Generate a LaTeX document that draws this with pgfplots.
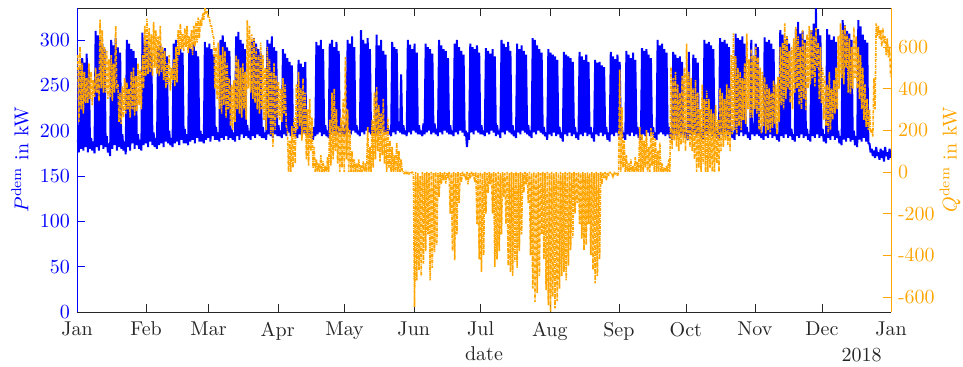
\documentclass[border=0pt]{standalone}
\usepackage{pgfplots}
\pgfplotsset{compat=1.18}
\definecolor{mblue}{RGB}{0,0,255}
\definecolor{morange}{RGB}{255,165,0}
\definecolor{axgray}{RGB}{38,38,38}
\begin{document}
\begin{tikzpicture}
\begin{axis}[name=ax,
 scale only axis, width=407pt, height=152pt,
 xmin=0, xmax=365, ymin=0, ymax=335.3,
 separate axis lines,
 x axis line style={axgray},
 y axis line style={mblue},
 xtick={0,31,59,90,120,151,181,212,243,273,304,334,365},
 xticklabels={Jan,Feb,Mar,Apr,May,Jun,Jul,Aug,Sep,Oct,Nov,Dec,Jan},
 xtick pos=both, ytick pos=left,
 ytick={0,50,...,300},
 tick align=inside, major tick length=4pt,
 every x tick/.style={axgray},
 every y tick/.style={mblue},
 yticklabel style={mblue},
 xticklabel style={axgray, yshift=-1.5pt},
 ylabel={$P^{\mathrm{dem}}$ in kW},
 ylabel style={mblue, at={(axis description cs:-0.070,0.5)}, anchor=center, inner sep=0pt},
 xlabel={date},
 xlabel style={axgray, at={(axis description cs:0.5,-0.161)}, anchor=base, inner sep=0pt},
]
\addplot[mblue, line width=1.0pt, line join=bevel] coordinates {
(0.35,190)(0.85,176)(1.35,270)(1.85,180)(2.35,280)(2.85,178)(3.35,275)(3.85,182)(4.35,285)(4.85,176)(5.35,268)(5.85,180)(6.35,192)(6.85,178)
(7.35,188)(7.85,175)(8.35,310)(8.85,182)(9.35,305)(9.85,178)(10.35,300)(10.85,184)(11.35,296)(11.85,180)(12.35,290)(12.85,182)(13.35,194)(13.85,176)
(14.35,186)(14.85,172)(15.35,300)(15.85,180)(16.35,294)(16.85,184)(17.35,302)(17.85,178)(18.35,292)(18.85,182)(19.35,286)(19.85,180)(20.35,196)(20.85,178)
(21.35,188)(21.85,174)(22.35,300)(22.85,182)(23.35,296)(23.85,178)(24.35,290)(24.85,186)(25.35,288)(25.85,180)(26.35,280)(26.85,184)(27.35,196)(27.85,180)
(28.35,190)(28.85,178)(29.35,308)(29.85,184)(30.35,296)(30.85,186)(31.35,300)(31.85,182)(32.35,292)(32.85,188)(33.35,286)(33.85,184)(34.35,198)(34.85,182)
(35.35,192)(35.85,180)(36.35,290)(36.85,184)(37.35,294)(37.85,186)(38.35,288)(38.85,182)(39.35,291)(39.85,188)(40.35,282)(40.85,186)(41.35,200)(41.85,184)
(42.35,192)(42.85,182)(43.35,296)(43.85,186)(44.35,300)(44.85,188)(45.35,292)(45.85,184)(46.35,290)(46.85,190)(47.35,286)(47.85,186)(48.35,202)(48.85,186)
(49.35,196)(49.85,184)(50.35,294)(50.85,188)(51.35,290)(51.85,190)(52.35,296)(52.85,186)(53.35,288)(53.85,192)(54.35,282)(54.85,188)(55.35,200)(55.85,188)
(56.35,196)(56.85,186)(57.35,298)(57.85,190)(58.35,292)(58.85,192)(59.35,296)(59.85,188)(60.35,290)(60.85,194)(61.35,284)(61.85,190)(62.35,204)(62.85,190)
(63.35,198)(63.85,188)(64.35,300)(64.85,192)(65.35,305)(65.85,190)(66.35,298)(66.85,194)(67.35,292)(67.85,190)(68.35,288)(68.85,192)(69.35,202)(69.85,190)
(70.35,198)(70.85,188)(71.35,304)(71.85,194)(72.35,309)(72.85,190)(73.35,300)(73.85,196)(74.35,296)(74.85,192)(75.35,290)(75.85,194)(76.35,206)(76.85,192)
(77.35,200)(77.85,190)(78.35,298)(78.85,194)(79.35,302)(79.85,192)(80.35,296)(80.85,196)(81.35,290)(81.85,194)(82.35,286)(82.85,192)(83.35,204)(83.85,192)
(84.35,198)(84.85,190)(85.35,300)(85.85,196)(86.35,296)(86.85,194)(87.35,304)(87.85,192)(88.35,292)(88.85,196)(89.35,288)(89.85,194)(90.35,206)(90.85,194)
(91.35,200)(91.85,192)(92.35,290)(92.85,196)(93.35,285)(93.85,194)(94.35,280)(94.85,198)(95.35,276)(95.85,194)(96.35,272)(96.85,196)(97.35,204)(97.85,194)
(98.35,200)(98.85,192)(99.35,278)(99.85,196)(100.35,274)(100.85,194)(101.35,270)(101.85,198)(102.35,276)(102.85,194)(103.35,206)(103.85,194)(104.35,202)(104.85,192)
(105.35,198)(105.85,190)(106.35,204)(106.85,194)(107.35,298)(107.85,196)(108.35,294)(108.85,198)(109.35,300)(109.85,194)(110.35,290)(110.85,196)(111.35,206)(111.85,194)
(112.35,200)(112.85,192)(113.35,296)(113.85,196)(114.35,300)(114.85,198)(115.35,292)(115.85,194)(116.35,298)(116.85,196)(117.35,288)(117.85,198)(118.35,206)(118.85,196)
(119.35,200)(119.85,194)(120.35,208)(120.85,196)(121.35,300)(121.85,198)(122.35,296)(122.85,196)(123.35,304)(123.85,200)(124.35,292)(124.85,198)(125.35,206)(125.85,196)
(126.35,200)(126.85,194)(127.35,311)(127.85,198)(128.35,300)(128.85,196)(129.35,296)(129.85,200)(130.35,302)(130.85,198)(131.35,290)(131.85,196)(132.35,206)(132.85,196)
(133.35,200)(133.85,194)(134.35,306)(134.85,198)(135.35,294)(135.85,196)(136.35,300)(136.85,200)(137.35,288)(137.85,198)(138.35,284)(138.85,196)(139.35,206)(139.85,196)
(140.35,200)(140.85,194)(141.35,298)(141.85,198)(142.35,292)(142.85,196)(143.35,290)(143.85,200)(144.35,210)(144.85,198)(145.35,262)(145.85,196)(146.35,206)(146.85,196)
(147.35,200)(147.85,194)(148.35,300)(148.85,198)(149.35,295)(149.85,196)(150.35,290)(150.85,200)(151.35,296)(151.85,198)(152.35,286)(152.85,196)(153.35,206)(153.85,196)
(154.35,200)(154.85,194)(155.35,208)(155.85,196)(156.35,296)(156.85,198)(157.35,292)(157.85,200)(158.35,290)(158.85,196)(159.35,285)(159.85,198)(160.35,208)(160.85,196)
(161.35,202)(161.85,194)(162.35,300)(162.85,198)(163.35,294)(163.85,196)(164.35,290)(164.85,200)(165.35,288)(165.85,198)(166.35,280)(166.85,196)(167.35,206)(167.85,196)
(168.35,200)(168.85,194)(169.35,296)(169.85,198)(170.35,300)(170.85,196)(171.35,292)(171.85,200)(172.35,288)(172.85,198)(173.35,284)(173.85,194)(174.35,200)(174.85,182)
(175.35,198)(175.85,190)(176.35,296)(176.85,198)(177.35,292)(177.85,196)(178.35,290)(178.85,200)(179.35,294)(179.85,198)(180.35,286)(180.85,196)(181.35,206)(181.85,196)
(182.35,200)(182.85,194)(183.35,291)(183.85,198)(184.35,288)(184.85,196)(185.35,285)(185.85,200)(186.35,290)(186.85,198)(187.35,282)(187.85,194)(188.35,206)(188.85,196)
(189.35,200)(189.85,192)(190.35,300)(190.85,198)(191.35,296)(191.85,196)(192.35,292)(192.85,200)(193.35,298)(193.85,198)(194.35,288)(194.85,196)(195.35,206)(195.85,194)
(196.35,200)(196.85,192)(197.35,296)(197.85,198)(198.35,290)(198.85,196)(199.35,294)(199.85,200)(200.35,288)(200.85,198)(201.35,284)(201.85,196)(202.35,206)(202.85,194)
(203.35,200)(203.85,192)(204.35,302)(204.85,198)(205.35,300)(205.85,196)(206.35,294)(206.85,200)(207.35,290)(207.85,198)(208.35,286)(208.85,196)(209.35,204)(209.85,194)
(210.35,198)(210.85,190)(211.35,290)(211.85,196)(212.35,286)(212.85,194)(213.35,284)(213.85,198)(214.35,282)(214.85,194)(215.35,278)(215.85,196)(216.35,204)(216.85,192)
(217.35,198)(217.85,188)(218.35,287)(218.85,196)(219.35,284)(219.85,194)(220.35,282)(220.85,198)(221.35,280)(221.85,194)(222.35,276)(222.85,196)(223.35,204)(223.85,192)
(224.35,198)(224.85,190)(225.35,287)(225.85,196)(226.35,282)(226.85,194)(227.35,278)(227.85,198)(228.35,284)(228.85,194)(229.35,276)(229.85,196)(230.35,204)(230.85,192)
(231.35,198)(231.85,188)(232.35,278)(232.85,196)(233.35,275)(233.85,194)(234.35,276)(234.85,198)(235.35,272)(235.85,194)(236.35,270)(236.85,196)(237.35,204)(237.85,190)
(238.35,198)(238.85,188)(239.35,287)(239.85,196)(240.35,282)(240.85,194)(241.35,279)(241.85,198)(242.35,284)(242.85,194)(243.35,276)(243.85,196)(244.35,204)(244.85,192)
(245.35,198)(245.85,190)(246.35,288)(246.85,196)(247.35,284)(247.85,194)(248.35,280)(248.85,198)(249.35,286)(249.85,194)(250.35,278)(250.85,196)(251.35,204)(251.85,192)
(252.35,198)(252.85,190)(253.35,291)(253.85,196)(254.35,288)(254.85,194)(255.35,290)(255.85,198)(256.35,284)(256.85,194)(257.35,280)(257.85,196)(258.35,204)(258.85,192)
(259.35,198)(259.85,190)(260.35,300)(260.85,196)(261.35,294)(261.85,198)(262.35,296)(262.85,196)(263.35,290)(263.85,194)(264.35,286)(264.85,196)(265.35,204)(265.85,192)
(266.35,198)(266.85,190)(267.35,287)(267.85,196)(268.35,284)(268.85,194)(269.35,280)(269.85,198)(270.35,282)(270.85,194)(271.35,276)(271.85,196)(272.35,204)(272.85,192)
(273.35,198)(273.85,190)(274.35,287)(274.85,196)(275.35,206)(275.85,194)(276.35,284)(276.85,198)(277.35,280)(277.85,194)(278.35,275)(278.85,196)(279.35,204)(279.85,192)
(280.35,198)(280.85,190)(281.35,300)(281.85,196)(282.35,296)(282.85,194)(283.35,298)(283.85,198)(284.35,294)(284.85,194)(285.35,290)(285.85,196)(286.35,204)(286.85,192)
(287.35,198)(287.85,190)(288.35,302)(288.85,196)(289.35,298)(289.85,194)(290.35,300)(290.85,198)(291.35,296)(291.85,194)(292.35,292)(292.85,196)(293.35,204)(293.85,192)
(294.35,198)(294.85,190)(295.35,307)(295.85,196)(296.35,302)(296.85,194)(297.35,300)(297.85,198)(298.35,304)(298.85,194)(299.35,296)(299.85,196)(300.35,204)(300.85,192)
(301.35,198)(301.85,190)(302.35,300)(302.85,196)(303.35,208)(303.85,194)(304.35,296)(304.85,196)(305.35,292)(305.85,194)(306.35,204)(306.85,192)
(307.35,198)(307.85,190)(308.35,303)(308.85,194)(309.35,298)(309.85,192)(310.35,300)(310.85,196)(311.35,296)(311.85,192)(312.35,290)(312.85,194)(313.35,202)(313.85,190)
(314.35,196)(314.85,188)(315.35,311)(315.85,194)(316.35,306)(316.85,192)(317.35,300)(317.85,196)(318.35,304)(318.85,192)(319.35,296)(319.85,194)(320.35,202)(320.85,190)
(321.35,196)(321.85,188)(322.35,312)(322.85,194)(323.35,320)(323.85,192)(324.35,307)(324.85,196)(325.35,310)(325.85,192)(326.35,300)(326.85,194)(327.35,202)(327.85,190)
(328.35,196)(328.85,188)(329.35,311)(329.85,194)(330.35,318)(330.85,192)(331.35,335)(331.85,196)(332.35,312)(332.85,192)(333.35,305)(333.85,194)(334.35,202)(334.85,188)
(335.35,196)(335.85,186)(336.35,312)(336.85,192)(337.35,306)(337.85,190)(338.35,300)(338.85,194)(339.35,304)(339.85,190)(340.35,298)(340.85,192)(341.35,200)(341.85,186)
(342.35,194)(342.85,184)(343.35,322)(343.85,190)(344.35,316)(344.85,188)(345.35,310)(345.85,192)(346.35,307)(346.85,188)(347.35,300)(347.85,190)(348.35,200)(348.85,184)
(349.35,194)(349.85,182)(350.35,322)(350.85,190)(351.35,315)(351.85,188)(352.35,306)(352.85,192)(353.35,300)(353.85,188)(354.35,297)(354.85,186)(355.35,186)(355.85,176)
(356.35,180)(356.85,172)(357.35,178)(357.85,170)(358.35,182)(358.85,172)(359.35,176)(359.85,168)(360.35,180)(360.85,170)(361.35,178)(361.85,166)(362.35,182)(362.85,172)
(363.35,176)(363.85,168)(364.35,180)(364.85,170)
};
\end{axis}
\begin{axis}[
 scale only axis, width=407pt, height=152pt,
 xmin=0, xmax=365, ymin=-672, ymax=786,
 axis x line=none, axis y line*=right,
 y axis line style={morange},
 ytick={-600,-400,-200,0,200,400,600},
 yticklabels={-600,-400,-200,0,200,400,600},
 ytick pos=right,
 tick align=inside, major tick length=4pt,
 every y tick/.style={morange},
 yticklabel style={morange},
 ylabel={$Q^{\mathrm{dem}}$ in kW},
 ylabel style={morange, at={(axis description cs:1.0725,0.5)}, anchor=center, inner sep=0pt, rotate=0},
]
\addplot[morange, line width=0.8pt, line join=bevel, dash pattern=on 1.6pt off 0.5pt on 0.4pt off 0.5pt] coordinates {
(0.35,560)(0.85,240)(1.35,600)(1.85,300)(2.35,520)(2.85,280)(3.35,480)(3.85,330)(4.35,450)(4.85,330)(5.35,520)(5.85,350)(6.35,480)(6.85,320)
(7.35,440)(7.85,360)(8.35,500)(8.85,380)(9.35,470)(9.85,340)(10.35,730)(10.85,400)(11.35,680)(11.85,380)(12.35,600)(12.85,380)(13.35,580)(13.85,350)
(14.35,540)(14.85,360)(15.35,560)(15.85,340)(16.35,520)(16.85,380)(17.35,700)(17.85,400)(18.35,420)(18.85,240)(19.35,380)(19.85,230)(20.35,410)(20.85,260)
(21.35,450)(21.85,280)(22.35,430)(22.85,300)(23.35,400)(23.85,260)(24.35,480)(24.85,300)(25.35,500)(25.85,270)(26.35,460)(26.85,290)(27.35,520)(27.85,320)
(28.35,490)(28.85,300)(29.35,560)(29.85,400)(30.35,700)(30.85,460)(31.35,735)(31.85,470)(32.35,690)(32.85,480)(33.35,660)(33.85,460)(34.35,720)(34.85,500)
(35.35,680)(35.85,470)(36.35,650)(36.85,460)(37.35,700)(37.85,480)(38.35,600)(38.85,440)(39.35,580)(39.85,400)(40.35,520)(40.85,420)(41.35,560)(41.85,390)
(42.35,500)(42.85,440)(43.35,540)(43.85,410)(44.35,600)(44.85,430)(45.35,680)(45.85,560)(46.35,712)(46.85,590)(47.35,660)(47.85,580)(48.35,690)(48.85,600)
(49.35,700)(49.85,570)(50.35,650)(50.85,590)(51.35,680)(51.85,560)(52.35,700)(52.85,600)(53.35,720)(53.85,620)(54.35,740)(54.85,640)(55.35,730)(55.85,700)
(56.35,760)(56.85,730)(57.35,786)(57.85,760)(58.35,770)(58.85,740)(59.35,740)(59.85,700)(60.35,700)(60.85,660)(61.35,640)(61.85,400)(62.35,600)(62.85,350)
(63.35,620)(63.85,300)(64.35,560)(64.85,280)(65.35,600)(65.85,320)(66.35,580)(66.85,260)(67.35,520)(67.85,300)(68.35,450)(68.85,220)(69.35,420)(69.85,200)
(70.35,440)(70.85,240)(71.35,560)(71.85,300)(72.35,540)(72.85,280)(73.35,500)(73.85,260)(74.35,520)(74.85,300)(75.35,480)(75.85,250)(76.35,728)(76.85,400)
(77.35,700)(77.85,380)(78.35,660)(78.85,350)(79.35,640)(79.85,330)(80.35,600)(80.85,300)(81.35,560)(81.85,280)(82.35,620)(82.85,300)(83.35,560)(83.85,250)
(84.35,500)(84.85,200)(85.35,600)(85.85,260)(86.35,540)(86.85,180)(87.35,480)(87.85,120)(88.35,520)(88.85,200)(89.35,460)(89.85,260)(90.35,430)(90.85,250)
(91.35,400)(91.85,240)(92.35,450)(92.85,280)(93.35,420)(93.85,220)(94.35,200)(94.85,0)(95.35,150)(95.85,0)(96.35,220)(96.85,20)(97.35,260)(97.85,40)
(98.35,420)(98.85,200)(99.35,480)(99.85,220)(100.35,400)(100.85,150)(101.35,450)(101.85,180)(102.35,380)(102.85,60)(103.35,300)(103.85,30)(104.35,350)(104.85,100)
(105.35,260)(105.85,20)(106.35,120)(106.85,0)(107.35,60)(107.85,0)(108.35,40)(108.85,0)(109.35,80)(109.85,0)(110.35,50)(110.85,0)(111.35,30)(111.85,0)
(112.35,70)(112.85,0)(113.35,250)(113.85,30)(114.35,380)(114.85,60)(115.35,400)(115.85,100)(116.35,300)(116.85,40)(117.35,220)(117.85,0)(118.35,260)(118.85,20)
(119.35,350)(119.85,0)(120.35,551)(120.85,60)(121.35,300)(121.85,0)(122.35,200)(122.85,0)(123.35,100)(123.85,0)(124.35,60)(124.85,0)(125.35,40)(125.85,0)
(126.35,60)(126.85,0)(127.35,30)(127.85,0)(128.35,50)(128.85,0)(129.35,40)(129.85,0)(130.35,215)(130.85,0)(131.35,120)(131.85,0)(132.35,250)(132.85,20)
(133.35,380)(133.85,60)(134.35,407)(134.85,100)(135.35,320)(135.85,50)(136.35,280)(136.85,80)(137.35,350)(137.85,40)(138.35,200)(138.85,0)(139.35,260)(139.85,20)
(140.35,150)(140.85,0)(141.35,120)(141.85,0)(142.35,80)(142.85,0)(143.35,140)(143.85,0)(144.35,100)(144.85,0)(145.35,60)(145.85,0)(146.35,0)(146.85,-10)
(147.35,5)(147.85,-10)(148.35,0)(148.85,-12)(149.35,0)(149.85,-8)(150.35,0)(150.85,-10)
(151.35,-648)(151.85,0)(152.35,-520)(152.85,-6)(153.35,-470)(153.85,-20)(154.35,-500)(154.85,0)(155.35,-440)(155.85,-6)(156.35,-380)(156.85,0)(157.35,-300)(157.85,-6)
(158.35,-520)(158.85,0)(159.35,-460)(159.85,-6)(160.35,-385)(160.85,0)(161.35,-350)(161.85,-6)(162.35,-120)(162.85,0)(163.35,-60)(163.85,-6)(164.35,-40)(164.85,0)
(165.35,-56)(165.85,-6)(166.35,-30)(166.85,0)(167.35,-200)(167.85,-6)(168.35,-380)(168.85,0)(169.35,-424)(169.85,-6)(170.35,-300)(170.85,0)(171.35,-150)(171.85,-6)
(172.35,-50)(172.85,0)(173.35,-20)(173.85,-6)(174.35,-40)(174.85,0)(175.35,-60)(175.85,-6)(176.35,-30)(176.85,0)(177.35,-20)(177.85,-6)(178.35,-50)(178.85,0)
(179.35,-250)(179.85,-6)(180.35,-420)(180.85,0)(181.35,-480)(181.85,-6)(182.35,-400)(182.85,0)(183.35,-200)(183.85,-6)(184.35,-100)(184.85,0)(185.35,-60)(185.85,-6)
(186.35,-200)(186.85,0)(187.35,-456)(187.85,-6)(188.35,-420)(188.85,0)(189.35,-380)(189.85,-6)(190.35,-300)(190.85,0)(191.35,-120)(191.85,-6)(192.35,-250)(192.85,0)
(193.35,-450)(193.85,-6)(194.35,-480)(194.85,0)(195.35,-500)(195.85,-6)(196.35,-430)(196.85,0)(197.35,-460)(197.85,-6)(198.35,-380)(198.85,0)(199.35,-300)(199.85,-6)
(200.35,-100)(200.85,0)(201.35,-60)(201.85,-6)(202.35,-150)(202.85,0)(203.35,-400)(203.85,-6)(204.35,-560)(204.85,0)(205.35,-624)(205.85,-6)(206.35,-580)(206.85,0)
(207.35,-500)(207.85,-6)(208.35,-300)(208.85,0)(209.35,-420)(209.85,-6)(210.35,-568)(210.85,0)(211.35,-640)(211.85,-6)(212.35,-672)(212.85,0)(213.35,-600)(213.85,-6)
(214.35,-655)(214.85,0)(215.35,-620)(215.85,-6)(216.35,-560)(216.85,0)(217.35,-500)(217.85,-6)(218.35,-480)(218.85,0)(219.35,-520)(219.85,-6)(220.35,-450)(220.85,0)
(221.35,-375)(221.85,-6)(222.35,-315)(222.85,0)(223.35,-200)(223.85,-6)(224.35,-150)(224.85,0)(225.35,-250)(225.85,-6)(226.35,-320)(226.85,0)(227.35,-375)(227.85,-6)
(228.35,-350)(228.85,0)(229.35,-250)(229.85,-6)(230.35,-400)(230.85,0)(231.35,-470)(231.85,-6)(232.35,-535)(232.85,0)(233.35,-500)(233.85,-6)(234.35,-420)(234.85,0)
(235.35,-60)(235.85,-6)(236.35,-30)(236.85,0)(237.35,-40)(237.85,-6)(238.35,-20)(238.85,0)(239.35,-10)(239.85,-6)(240.35,-30)(240.85,0)(241.35,-10)(241.85,-6)
(242.35,-20)(242.85,0)
(243.35,490)(243.85,0)(244.35,310)(244.85,20)(245.35,150)(245.85,0)(246.35,80)(246.85,0)(247.35,40)(247.85,0)(248.35,60)(248.85,0)(249.35,30)(249.85,0)
(250.35,70)(250.85,0)(251.35,50)(251.85,0)(252.35,215)(252.85,0)(253.35,180)(253.85,0)(254.35,150)(254.85,20)(255.35,200)(255.85,0)(256.35,120)(256.85,0)
(257.35,210)(257.85,30)(258.35,190)(258.85,0)(259.35,160)(259.85,0)(260.35,100)(260.85,0)(261.35,140)(261.85,0)(262.35,40)(262.85,0)(263.35,20)(263.85,0)
(264.35,30)(264.85,0)(265.35,60)(265.85,0)(266.35,504)(266.85,110)(267.35,450)(267.85,150)(268.35,480)(268.85,120)(269.35,420)(269.85,100)(270.35,380)(270.85,130)
(271.35,460)(271.85,140)(272.35,500)(272.85,100)(273.35,616)(273.85,150)(274.35,480)(274.85,120)(275.35,450)(275.85,100)(276.35,400)(276.85,60)(277.35,440)(277.85,0)
(278.35,380)(278.85,20)(279.35,300)(279.85,0)(280.35,420)(280.85,40)(281.35,350)(281.85,0)(282.35,390)(282.85,0)(283.35,350)(283.85,20)(284.35,300)(284.85,0)
(285.35,280)(285.85,0)(286.35,320)(286.85,40)(287.35,250)(287.85,0)(288.35,400)(288.85,100)(289.35,380)(289.85,120)(290.35,350)(290.85,150)(291.35,420)(291.85,130)
(292.35,400)(292.85,100)(293.35,560)(293.85,180)(294.35,664)(294.85,200)(295.35,555)(295.85,180)(296.35,500)(296.85,220)(297.35,480)(297.85,200)(298.35,450)(298.85,250)
(299.35,520)(299.85,230)(300.35,664)(300.85,300)(301.35,540)(301.85,260)(302.35,590)(302.85,260)(303.35,560)(303.85,300)(304.35,600)(304.85,280)(305.35,550)(305.85,200)
(306.35,500)(306.85,185)(307.35,480)(307.85,220)(308.35,455)(308.85,184)(309.35,420)(309.85,200)(310.35,400)(310.85,190)(311.35,380)(311.85,210)(312.35,440)(312.85,230)
(313.35,420)(313.85,180)(314.35,456)(314.85,240)(315.35,600)(315.85,320)(316.35,620)(316.85,300)(317.35,712)(317.85,350)(318.35,650)(318.85,400)(319.35,580)(319.85,330)
(320.35,600)(320.85,300)(321.35,640)(321.85,380)(322.35,695)(322.85,400)(323.35,650)(323.85,320)(324.35,600)(324.85,300)(325.35,680)(325.85,350)(326.35,620)(326.85,296)
(327.35,660)(327.85,400)(328.35,700)(328.85,420)(329.35,680)(329.85,450)(330.35,650)(330.85,410)(331.35,690)(331.85,500)(332.35,620)(332.85,350)(333.35,600)(333.85,330)
(334.35,500)(334.85,250)(335.35,460)(335.85,220)(336.35,420)(336.85,185)(337.35,480)(337.85,200)(338.35,400)(338.85,250)(339.35,440)(339.85,280)(340.35,500)(340.85,300)
(341.35,650)(341.85,400)(342.35,712)(342.85,450)(343.35,680)(343.85,420)(344.35,700)(344.85,500)(345.35,660)(345.85,380)(346.35,640)(346.85,375)(347.35,600)(347.85,400)
(348.35,695)(348.85,450)(349.35,650)(349.85,400)(350.35,600)(350.85,350)(351.35,560)(351.85,300)(352.35,500)(352.85,250)(353.35,420)(353.85,216)(354.35,350)(354.85,200)
(355.35,300)(355.85,190)(356.35,200)(356.85,170)(357.35,450)(357.85,300)(358.35,712)(358.85,650)(359.35,700)(359.85,640)(360.35,680)(360.85,600)(361.35,690)(361.85,620)
(362.35,650)(362.85,560)(363.35,640)(363.85,550)(364.35,600)(364.85,455)
};
\end{axis}
\node[anchor=base east, inner sep=0pt, text=axgray] at ([xshift=-4.5pt,yshift=-24.5pt]ax.south east) {2018};
\path ([xshift=-38.5pt,yshift=-27pt]ax.south west) rectangle ([xshift=36pt,yshift=4pt]ax.north east);
\end{tikzpicture}
\end{document}
